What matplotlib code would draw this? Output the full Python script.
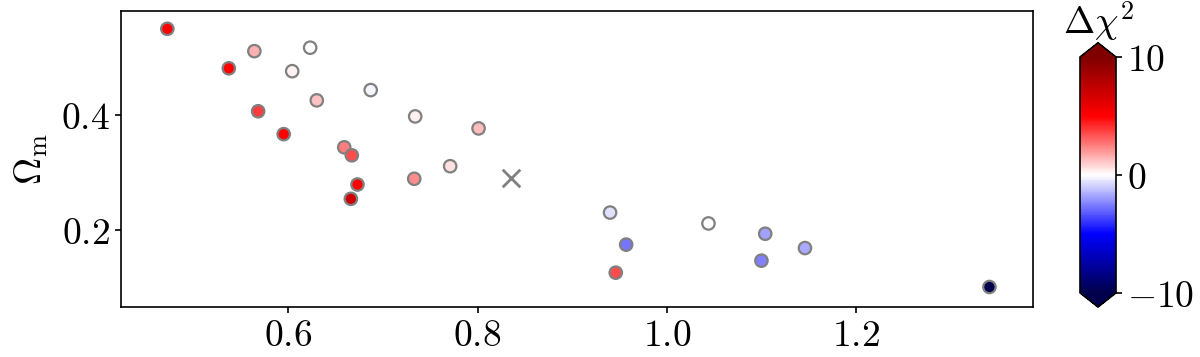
import numpy as np
import matplotlib

matplotlib.use("Agg")
import matplotlib.pyplot as plt
from matplotlib.ticker import FuncFormatter

plt.rcParams["mathtext.fontset"] = "cm"
plt.rcParams["font.family"] = ["DejaVu Serif"]

# ---- data ------------------------------------------------------------------
sigma8 = [0.472, 0.537, 0.564, 0.623, 0.604, 0.568, 0.630, 0.687, 0.595,
          0.734, 0.801, 0.659, 0.667, 0.673, 0.666, 0.733, 0.771, 0.940,
          0.957, 0.946, 1.044, 1.104, 1.100, 1.146, 1.341]
omega_m = [0.551, 0.482, 0.512, 0.518, 0.477, 0.407, 0.426, 0.444, 0.367,
           0.398, 0.377, 0.344, 0.330, 0.279, 0.254, 0.289, 0.311, 0.230,
           0.174, 0.125, 0.211, 0.193, 0.146, 0.168, 0.100]
dchi2 = [5.0, 5.0, 1.5, 0.0, 0.3, 3.8, 1.2, -0.2, 5.0,
         0.3, 1.3, 2.5, 3.5, 5.0, 7.0, 2.2, 0.6, -0.6,
         -2.7, 3.5, 0.0, -1.8, -2.5, -1.7, -11.0]
fiducial = (0.835, 0.291)

FS = 13.5


def fmt1(v, pos):
    return f"${v:.1f}$"


def fmt0(v, pos):
    return f"${v:.0f}$".replace("-0$", "0$")


fig = plt.figure(figsize=(6, 1.785), dpi=200)
ax = fig.add_axes([0.1008, 0.140, 0.760, 0.829])
cax = fig.add_axes([0.900, 0.140, 0.030, 0.740])

sc = ax.scatter(sigma8, omega_m, c=dchi2, cmap="seismic", vmin=-10, vmax=10,
                s=20, edgecolors="grey", linewidths=0.8, zorder=3)
ax.scatter([fiducial[0]], [fiducial[1]], marker="x", s=40, color="grey",
           linewidths=1.0, zorder=4)

ax.set_xlim(0.423, 1.387)
ax.set_ylim(0.065, 0.582)
ax.set_xticks([0.6, 0.8, 1.0, 1.2])
ax.set_yticks([0.2, 0.4])
ax.xaxis.set_major_formatter(FuncFormatter(fmt1))
ax.yaxis.set_major_formatter(FuncFormatter(fmt1))
ax.tick_params(labelsize=FS, width=0.6, length=2, pad=2)
ax.set_ylabel(r"$\Omega_{\rm m}$", fontsize=FS, labelpad=4)
for sp in ax.spines.values():
    sp.set_linewidth(0.6)

cb = fig.colorbar(sc, cax=cax, extend="both", extendfrac=0.06)
cb.set_ticks([-10, 0, 10])
cb.ax.yaxis.set_major_formatter(FuncFormatter(fmt0))
cb.ax.tick_params(labelsize=FS, width=0.6, length=2, pad=2)
cb.outline.set_linewidth(0.6)
cb.ax.set_title(r"$\Delta\chi^2$", fontsize=FS, pad=2)

fig.savefig("out.png", dpi=200)
